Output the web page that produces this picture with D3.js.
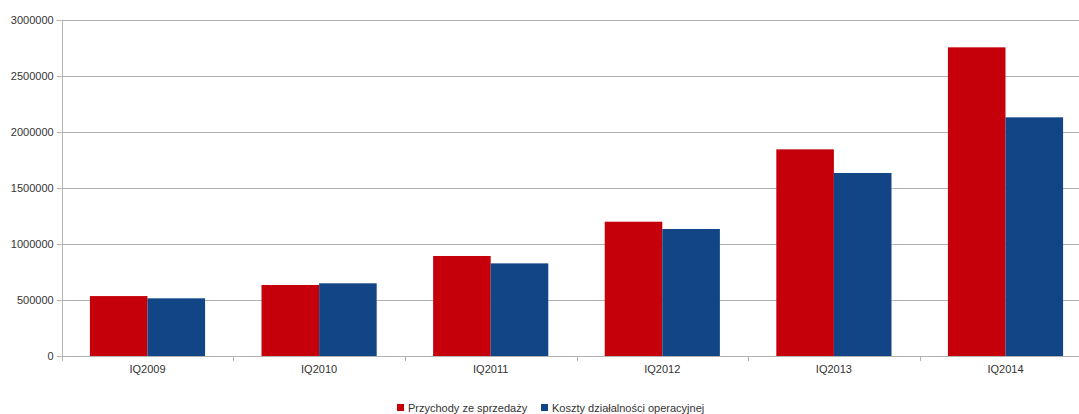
<!DOCTYPE html>
<html><head><meta charset="utf-8">
<script src="https://cdn.jsdelivr.net/npm/d3@7"></script>
<style>
html,body{margin:0;padding:0;background:#fff;overflow:hidden}
text{font-family:"Liberation Sans",Arial,sans-serif;font-size:11px;fill:#333}
</style></head>
<body><svg id="c" width="1079" height="414"></svg>
<script>
const categories = ["IQ2009","IQ2010","IQ2011","IQ2012","IQ2013","IQ2014"];
const seriesNames = ["Przychody ze sprzedaży","Koszty działalności operacyjnej"];
const przychody = [535000, 634000, 893000, 1199000, 1845000, 2756000];
const koszty = [515000, 649000, 827000, 1134000, 1634000, 2131000];
const yTicks = [0,500000,1000000,1500000,2000000,2500000,3000000];
const colors = ["#c5000b","#114586"];

(function(){
const svg = d3.select("#c");
const mLeft = 61.7, mTop = 20, mBottom = 356, bandW = 171.6;
const x = d3.scaleBand().domain(categories).range([mLeft, mLeft + bandW*categories.length]).paddingInner(0).paddingOuter(0);
const y = d3.scaleLinear().domain([0,3000000]).range([mBottom, mTop]);
const x1 = d3.scaleBand().domain([0,1]).range([0, x.bandwidth()]).paddingOuter(0.49).paddingInner(0);

// gridlines
svg.append("g").selectAll("line").data(yTicks).join("line")
  .attr("x1", mLeft).attr("x2", 1079).attr("y1", d=>Math.round(y(d))+0.5).attr("y2", d=>Math.round(y(d))+0.5)
  .attr("stroke","#b3b3b3").attr("stroke-width",1);

// y axis
const yAxis = svg.append("g").attr("transform",`translate(${mLeft},0)`)
  .call(d3.axisLeft(y).tickValues(yTicks).tickFormat(d3.format("d")).tickSize(5).tickPadding(3));
yAxis.select(".domain").remove();
yAxis.selectAll(".tick line").attr("stroke","#b3b3b3");
yAxis.selectAll("text").style("fill","#333").style("font-size","11px").attr("font-family",null);

// bars
const data = categories.map((c,i)=>({c, v:[przychody[i], koszty[i]]}));
const g = svg.append("g");
g.selectAll("g").data(data).join("g")
  .attr("transform", d=>`translate(${x(d.c)},0)`)
  .selectAll("rect").data(d=>d.v.map((v,k)=>({v,k}))).join("rect")
  .attr("x", d=>x1(d.k)).attr("width", x1.bandwidth())
  .attr("y", d=>y(d.v)).attr("height", d=>y(0)-y(d.v))
  .attr("fill", d=>colors[d.k]);

// x axis
const xAxisG = svg.append("g").attr("transform",`translate(0,${mBottom})`);
xAxisG.append("line").attr("x1",mLeft).attr("x2",1079).attr("y1",0.5).attr("y2",0.5).attr("stroke","#b3b3b3");
const bounds = d3.range(categories.length+1).map(i=>mLeft + i*x.step());
xAxisG.selectAll("line.t").data(bounds).join("line").attr("class","t")
  .attr("x1",d=>Math.round(d)+0.5).attr("x2",d=>Math.round(d)+0.5).attr("y1",0).attr("y2",5).attr("stroke","#b3b3b3");
xAxisG.selectAll("text").data(categories).join("text")
  .attr("x", d=>x(d)+x.bandwidth()/2).attr("y", 17).attr("text-anchor","middle").text(d=>d);
svg.append("line").attr("x1",Math.round(mLeft)+0.5).attr("x2",Math.round(mLeft)+0.5).attr("y1",mTop).attr("y2",mBottom+5).attr("stroke","#b3b3b3");

// legend
const legendX = [397, 541];
const lg = svg.append("g").selectAll("g").data(seriesNames).join("g")
  .attr("transform",(d,i)=>`translate(${legendX[i]},404)`);
lg.append("rect").attr("width",7).attr("height",7).attr("fill",(d,i)=>colors[i]);
lg.append("text").attr("x",11).attr("y",8).text(d=>d);
})();
</script></body></html>
